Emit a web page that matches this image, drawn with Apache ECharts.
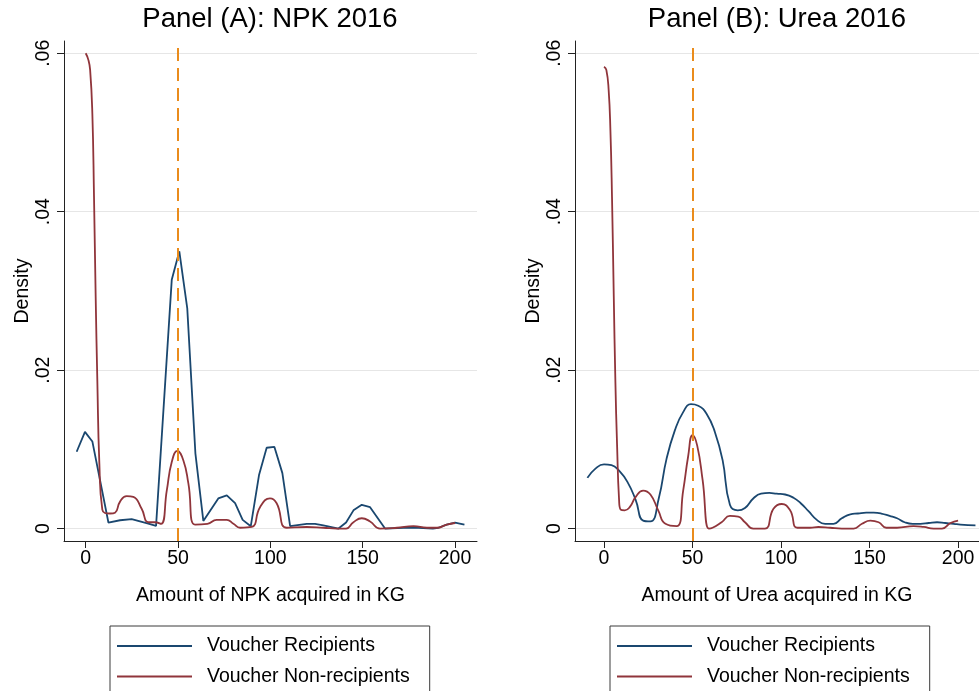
<!DOCTYPE html>
<html>
<head>
<meta charset="utf-8">
<script src="https://cdn.jsdelivr.net/npm/echarts@6/dist/echarts.min.js"></script>
<style>
  html, body { margin: 0; padding: 0; background: #fff; }
  #chart { width: 979px; height: 691px; }
</style>
</head>
<body>
<div id="chart"></div>
<script>
// Kernel density estimates of fertilizer acquired (kg), 2016
const seriesNames = ['Voucher Recipients', 'Voucher Non-recipients'];
const panelTitles = ['Panel (A): NPK 2016', 'Panel (B): Urea 2016'];
const xAxisTitles = ['Amount of NPK acquired in KG', 'Amount of Urea acquired in KG'];
const xTickValues = [0, 50, 100, 150, 200];
const yTickValues = [0, 0.02, 0.04, 0.06];
const yTickLabels = ['0', '.02', '.04', '.06'];
const voucherAmount = 50;

// Panel A: NPK
const npkRecipients = [
  [-4.9, 0.0097], [-0.4, 0.0122], [3.6, 0.0110], [12.3, 0.00076], [18.6, 0.00105],
  [24.9, 0.00118], [33.9, 0.00063], [38.1, 0.00034], [46.6, 0.0314], [50.7, 0.0350],
  [55.0, 0.0278], [59.4, 0.0095], [63.7, 0.00097], [71.8, 0.0038], [76.4, 0.0042],
  [80.9, 0.0032], [85.0, 0.0011], [89.4, 0.0003], [93.9, 0.0068], [98.0, 0.0102],
  [102.2, 0.0103], [106.5, 0.0070], [110.7, 0.0003], [119.7, 0.0006], [124.2, 0.0006],
  [128.7, 0.0004], [136.9, 0.0], [141.0, 0.00076], [145.0, 0.0023], [149.5, 0.0030],
  [154.0, 0.0027], [162.1, 0.0], [172.1, 0.0001], [180.2, 0.0001], [188.0, 0.0],
  [191.0, 0.0001], [195.5, 0.0005], [200.0, 0.00076], [205.1, 0.0005]
];
const npkNonRecipients = [
  [0, 0.0600], [1.4, 0.0592], [2.4, 0.0579], [3.6, 0.0524], [4.5, 0.0419],
  [5.4, 0.0293], [6.3, 0.0187], [7.4, 0.0082], [9.0, 0.0024], [13.2, 0.0019],
  [15.9, 0.0020], [18.6, 0.0034], [22.2, 0.0041], [25.8, 0.0040], [30.3, 0.0025],
  [33.9, 0.0008], [37.5, 0.0008], [40.8, 0.0006], [43.9, 0.0048], [46.6, 0.0084],
  [49.6, 0.0098], [52.9, 0.0086], [55.6, 0.0057], [59.2, 0.0005], [65.9, 0.0006],
  [70.9, 0.0011], [76.4, 0.0011], [80.0, 0.0006], [83.6, 0.0001], [89.9, 0.0002],
  [94.4, 0.0027], [99.8, 0.0038], [103.4, 0.0032], [108.9, 0.0001], [119.7, 0.0002],
  [128.7, 0.0001], [136.0, 0.0], [141.0, 0.0], [145.0, 0.0008], [149.5, 0.0013],
  [154.0, 0.0009], [159.4, 0.0], [168.5, 0.0001], [177.5, 0.0003], [184.8, 0.0001],
  [190.2, 0.0001], [195.5, 0.0005], [200.0, 0.0007]
];

// Panel B: Urea
const ureaRecipients = [
  [-9.4, 0.0064], [-4.7, 0.0076], [0, 0.0081], [4.2, 0.0080], [8.5, 0.0073],
  [13.2, 0.0059], [17.9, 0.0036], [22.1, 0.0010], [26.2, 0.0009], [30.9, 0.0038],
  [35.3, 0.0088], [40.0, 0.0124], [44.7, 0.0147], [49.1, 0.0157], [53.2, 0.0155],
  [57.9, 0.0145], [62.6, 0.0122], [67.0, 0.0086], [71.1, 0.0030], [75.5, 0.0023],
  [79.6, 0.0026], [84.3, 0.0038], [88.7, 0.0044], [93.4, 0.0045], [97.5, 0.0044],
  [102.3, 0.0043], [107.0, 0.0039], [111.1, 0.0032], [115.5, 0.0022], [120.2, 0.0011],
  [124.9, 0.0006], [129.6, 0.0006], [134.3, 0.0013], [139.1, 0.0018], [143.4, 0.0019],
  [148.1, 0.0020], [152.3, 0.0020], [156.6, 0.0019], [161.3, 0.0016], [165.5, 0.0013],
  [169.8, 0.0008], [174.3, 0.0006], [178.7, 0.0006], [183.4, 0.0007], [188.1, 0.0008],
  [192.8, 0.0007], [197.5, 0.0006], [201.3, 0.0005], [209.8, 0.0004]
];
const ureaNonRecipients = [
  [0, 0.0583], [1.3, 0.0579], [2.6, 0.0554], [3.6, 0.0503], [4.5, 0.0419],
  [5.5, 0.0293], [6.4, 0.0187], [7.4, 0.0103], [8.5, 0.0036], [9.4, 0.0024],
  [11.7, 0.0023], [14.5, 0.0027], [17.9, 0.0040], [22.1, 0.0048], [26.2, 0.0043],
  [30.6, 0.0023], [34.7, 0.0006], [41.0, 0.0003], [44.7, 0.0048], [47.5, 0.0091],
  [50.0, 0.0118], [52.6, 0.0105], [55.7, 0.0061], [59.2, 0.0], [61.3, 0.0001],
  [66.4, 0.0008], [71.1, 0.0016], [75.8, 0.0015], [79.6, 0.0008], [84.3, 0.0],
  [90.9, 0.0], [95.7, 0.0025], [100.4, 0.0031], [105.1, 0.0023], [109.2, 0.0001],
  [116.4, 0.0001], [121.1, 0.0002], [127.7, 0.0001], [134.3, 0.0], [141.0, 0.0],
  [145.7, 0.0006], [150.4, 0.0010], [155.1, 0.0008], [159.4, 0.0001], [165.5, 0.0001],
  [174.9, 0.0003], [180.6, 0.0002], [186.2, 0.0], [190.9, 0.0], [195.7, 0.0007],
  [200.0, 0.0010]
];

const BLUE = '#1a476f';
const RED = '#90353b';
const ORANGE = '#ea8c1c';
const FONT = '"Liberation Sans", Arial, sans-serif';

const panels = [
  { grid: { left: 64, top: 41, width: 413, height: 500 }, xMin: -11.75, xMax: 211.9,
    recip: npkRecipients, nonRecip: npkNonRecipients, recipSmooth: false, titleX: 270, legendX: 110 },
  { grid: { left: 575, top: 41, width: 404, height: 500 }, xMin: -16.4, xMax: 211.8,
    recip: ureaRecipients, nonRecip: ureaNonRecipients, recipSmooth: 0.5, titleX: 777, legendX: 610 }
];
const yMin = -0.00157, yMax = 0.06155;

const option = {
  backgroundColor: '#fff',
  animation: false,
  textStyle: { fontFamily: FONT },
  title: panels.map((p, i) => ({
    text: panelTitles[i], left: p.titleX, top: 5, padding: 0, textAlign: 'center',
    textStyle: { fontFamily: FONT, fontSize: 27.5, fontWeight: 'normal', color: '#000' }
  })),
  legend: panels.map((p) => ({
    data: seriesNames, orient: 'vertical', left: p.legendX, top: 626, height: 120,
    icon: 'rect', itemWidth: 75, itemHeight: 2, itemGap: 10.5,
    padding: [10, 20, 14, 7], borderColor: '#3a3a3a', borderWidth: 1, borderRadius: 0,
    textStyle: { fontFamily: FONT, fontSize: 19.5, color: '#000', padding: [0, 0, 0, 10] }
  })),
  grid: panels.map(p => p.grid),
  xAxis: panels.map((p, i) => ({
    type: 'value', gridIndex: i, min: p.xMin, max: p.xMax,
    name: xAxisTitles[i], nameLocation: 'middle', nameGap: 45,
    nameTextStyle: { fontFamily: FONT, fontSize: 19.5, color: '#000' },
    axisLine: { onZero: false, lineStyle: { color: '#222', width: 1 } },
    axisTick: { show: true, length: 7, customValues: xTickValues, lineStyle: { color: '#222' } },
    axisLabel: { customValues: xTickValues, margin: 8, fontFamily: FONT, fontSize: 19.5, color: '#000' },
    splitLine: { show: false }
  })),
  yAxis: panels.map((p, i) => ({
    type: 'value', gridIndex: i, min: yMin, max: yMax,
    name: 'Density', nameLocation: 'middle', nameGap: 26, nameRotate: 90,
    nameTextStyle: { fontFamily: FONT, fontSize: 19.5, color: '#000' },
    axisLine: { show: true, onZero: false, lineStyle: { color: '#222', width: 1 } },
    axisTick: { show: true, length: 7, customValues: yTickValues, lineStyle: { color: '#222' } },
    axisLabel: {
      customValues: yTickValues, rotate: 90, margin: 10, fontFamily: FONT, fontSize: 19.5, color: '#000',
      formatter: (v) => yTickLabels[yTickValues.findIndex(t => Math.abs(t - v) < 1e-9)]
    },
    splitLine: { show: true, lineStyle: { color: '#e6e6e6', width: 1 } }
  })),
  series: []
};

panels.forEach((p, i) => {
  option.series.push({
    name: seriesNames[0], type: 'line', xAxisIndex: i, yAxisIndex: i,
    data: p.recip, showSymbol: false, smooth: p.recipSmooth,
    color: BLUE, lineStyle: { color: BLUE, width: 1.8 }, z: 2
  });
  option.series.push({
    name: seriesNames[1], type: 'line', xAxisIndex: i, yAxisIndex: i,
    data: p.nonRecip, showSymbol: false, smooth: 0.5,
    color: RED, lineStyle: { color: RED, width: 1.8 }, z: 3,
    markLine: {
      silent: true, symbol: 'none', label: { show: false }, z: 5,
      lineStyle: { color: ORANGE, width: 2, type: [13, 7] },
      data: [{ xAxis: voucherAmount }]
    }
  });
});

const chart = echarts.init(document.getElementById('chart'), null, { renderer: 'canvas' });
chart.setOption(option);
</script>
</body>
</html>
